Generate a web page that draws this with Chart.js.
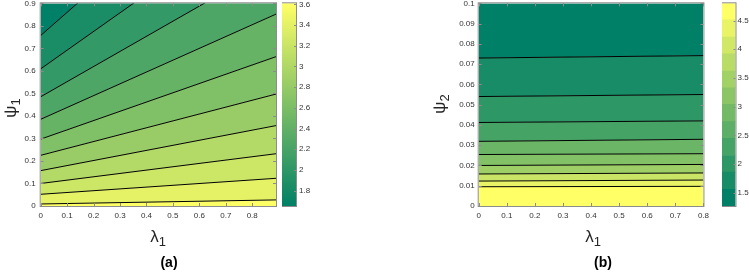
<!DOCTYPE html>
<html>
<head>
<meta charset="utf-8">
<script src="https://cdn.jsdelivr.net/npm/chart.js@4.4.1/dist/chart.umd.min.js"></script>
<style>
  body { margin: 0; background: #fff; font-family: "Liberation Sans", Arial, sans-serif; }
  #fig { position: relative; width: 749px; height: 274px; overflow: hidden; }
  #fig canvas { position: absolute; }
  .rot { position: absolute; white-space: nowrap; color: #262626; font-size: 17px; line-height: 17px; }
  .rot sub { font-size: 13px; vertical-align: baseline; position: relative; top: 4px; }
  .cap { position: absolute; font-weight: bold; font-size: 14px; color: #000; transform: translate(-50%, -50%); }
</style>
</head>
<body>
<div id="fig">
  <canvas id="grafA" width="280" height="260" style="left:0;top:-10px"></canvas>
  <canvas id="barraA" width="40" height="226" style="left:282px;top:-10px"></canvas>
  <canvas id="grafB" width="284" height="260" style="left:430px;top:-10px"></canvas>
  <canvas id="barraB" width="27" height="226" style="left:722px;top:-10px"></canvas>

  <div class="rot" style="left:11px;top:108px;transform:translate(-50%,-50%) rotate(-90deg)">ψ<sub>1</sub></div>
  <div class="rot" style="left:158px;top:228px;transform:translateX(-50%)">λ<sub>1</sub></div>
  <div class="cap" style="left:169px;top:262px">(a)</div>

  <div class="rot" style="left:440px;top:104px;transform:translate(-50%,-50%) rotate(-90deg)">ψ<sub>2</sub></div>
  <div class="rot" style="left:593px;top:228px;transform:translateX(-50%)">λ<sub>1</sub></div>
  <div class="cap" style="left:603px;top:262px">(b)</div>
</div>

<script>
// ---- painel (a): psi1 x lambda1
const lambdaMaxA = 0.89;
const lambdaTicksA = [0, 0.1, 0.2, 0.3, 0.4, 0.5, 0.6, 0.7, 0.8];
const psi1Ticks = [0, 0.1, 0.2, 0.3, 0.4, 0.5, 0.6, 0.7, 0.8, 0.9];
// curvas de nivel: psi1 em lambda1 = 0 e em lambda1 = lambdaMaxA (de baixo para cima)
const nivelA_esq = [0.009, 0.052, 0.100, 0.157, 0.225, 0.297, 0.385, 0.485, 0.609, 0.757];
const nivelA_dir = [0.027, 0.123, 0.232, 0.357, 0.497, 0.663, 0.852, 1.082, 1.347, 1.673];
const barraA_lim = [1.652, 3.61];
const barraA_ticks = [1.8, 2, 2.2, 2.4, 2.6, 2.8, 3, 3.2, 3.4, 3.6];

// ---- painel (b): psi2 x lambda1
const lambdaMaxB = 0.8;
const lambdaTicksB = [0, 0.1, 0.2, 0.3, 0.4, 0.5, 0.6, 0.7, 0.8];
const psi2Ticks = [0, 0.01, 0.02, 0.03, 0.04, 0.05, 0.06, 0.07, 0.08, 0.09, 0.1];
const nivelB_esq = [0.0095, 0.0123, 0.0158, 0.0200, 0.0254, 0.0319, 0.0412, 0.0540, 0.0730];
const nivelB_dir = [0.0097, 0.0128, 0.0163, 0.0205, 0.0258, 0.0329, 0.0420, 0.0550, 0.0742];
const barraB_bordas = [1.27, 1.56, 1.86, 2.15, 2.45, 2.74, 3.04, 3.33, 3.62, 3.92, 4.21, 4.51, 4.80];
const barraB_ticks = [1.5, 2, 2.5, 3, 3.5, 4, 4.5];

// mapa de cores "summer"
const summer = t => `rgb(${Math.round(255 * t)},${Math.round(128 + 127 * t)},102)`;
// cores das regioes, de cima para baixo
const coresA = [0, 1, 2, 3, 4, 5, 6, 7, 8, 9, 10].map(k => summer(k / 10));
const coresB = [0, 1, 2, 3, 4.6, 5.6, 6.8, 8.7, 10, 11].map(k => summer(k / 11));

Chart.defaults.font.family = '"Liberation Sans", Arial, sans-serif';
Chart.defaults.font.size = 8;
Chart.defaults.color = '#333';

// caixa cinza com marcas para dentro (estilo matlab)
const caixa = {
  id: 'caixa',
  afterDraw(chart, args, opts) {
    const { ctx, chartArea: a } = chart;
    const tl = opts.tick || 3;
    ctx.save();
    ctx.strokeStyle = '#8c8c8c';
    ctx.lineWidth = 1;
    ctx.strokeRect(a.left - 0.5, a.top - 0.5, a.width + 1, a.height + 1);
    ctx.beginPath();
    if (opts.x) {
      const sx = chart.scales.x;
      sx.ticks.forEach(t => {
        const px = Math.round(sx.getPixelForValue(t.value)) + 0.5;
        ctx.moveTo(px, a.bottom); ctx.lineTo(px, a.bottom - tl);
        ctx.moveTo(px, a.top); ctx.lineTo(px, a.top + tl);
      });
    }
    const sy = chart.scales.y;
    sy.ticks.forEach(t => {
      const py = Math.round(sy.getPixelForValue(t.value)) + 0.5;
      if (opts.left) { ctx.moveTo(a.left, py); ctx.lineTo(a.left + tl, py); }
      ctx.moveTo(a.right, py); ctx.lineTo(a.right - tl, py);
    });
    ctx.stroke();
    ctx.restore();
  }
};

function montaContorno(esq, dir, xMax, cores) {
  const n = esq.length;
  const ds = esq.map((y0, i) => ({
    data: [{ x: 0, y: y0 }, { x: xMax, y: dir[i] }],
    borderColor: '#000',
    borderWidth: 1,
    pointRadius: 0,
    clip: 0,
    fill: i === 0 ? 'start' : '-1',
    backgroundColor: cores[n - i]
  }));
  // regiao acima da ultima curva
  ds.push({
    data: [{ x: 0, y: esq[n - 1] }, { x: xMax, y: dir[n - 1] }],
    borderWidth: 0,
    pointRadius: 0,
    clip: 0,
    fill: 'end',
    backgroundColor: cores[0]
  });
  return ds;
}

function graficoContorno(id, datasets, xMax, xTicks, yMax, yTicks, largY, padY, padDir) {
  new Chart(document.getElementById(id), {
    type: 'line',
    data: { datasets },
    options: {
      responsive: false,
      animation: false,
      events: [],
      layout: { padding: { top: 13.3, right: padDir, left: 0, bottom: 0 } },
      plugins: { legend: { display: false }, tooltip: { enabled: false }, caixa: { x: true, left: true, tick: 3 } },
      scales: {
        x: {
          type: 'linear', min: 0, max: xMax,
          grid: { display: false, drawTicks: false },
          border: { display: false },
          afterBuildTicks: s => { s.ticks = xTicks.map(v => ({ value: v })); },
          afterFit: s => { s.height = 44; },
          ticks: { padding: 5, maxRotation: 0, callback: v => String(v) }
        },
        y: {
          type: 'linear', min: 0, max: yMax,
          grid: { display: false, drawTicks: false },
          border: { display: false },
          afterBuildTicks: s => { s.ticks = yTicks.map(v => ({ value: v })); },
          afterFit: s => { s.width = largY; },
          ticks: { padding: padY, callback: v => String(v) }
        }
      }
    },
    plugins: [caixa]
  });
}

function graficoBarra(id, datasets, lim, ticks, largY, padY) {
  new Chart(document.getElementById(id), {
    type: 'bar',
    data: { labels: [''], datasets },
    options: {
      responsive: false,
      animation: false,
      events: [],
      layout: { padding: { top: 13.3, right: 0, left: 0, bottom: 10 } },
      plugins: { legend: { display: false }, tooltip: { enabled: false }, caixa: { x: false, left: false, tick: 2 } },
      scales: {
        x: { display: false },
        y: {
          position: 'right', min: lim[0], max: lim[1],
          grid: { display: false, drawTicks: false },
          border: { display: false },
          afterBuildTicks: s => { s.ticks = ticks.map(v => ({ value: v })); },
          afterFit: s => { s.width = largY; },
          ticks: { padding: padY, callback: v => String(v) }
        }
      }
    },
    plugins: [caixa]
  });
}

document.addEventListener('DOMContentLoaded', () => {
  graficoContorno('grafA', montaContorno(nivelA_esq, nivelA_dir, lambdaMaxA, coresA),
    lambdaMaxA, lambdaTicksA, 0.9, psi1Ticks, 40.7, 5, 4);
  graficoContorno('grafB', montaContorno(nivelB_esq, nivelB_dir, lambdaMaxB, coresB),
    lambdaMaxB, lambdaTicksB, 0.1, psi2Ticks, 48.7, 4, 4.4);

  graficoBarra('barraA', [{
    data: [barraA_lim],
    barPercentage: 1, categoryPercentage: 1, borderWidth: 0,
    backgroundColor: c => {
      const a = c.chart.chartArea;
      if (!a) return summer(0.5);
      const g = c.chart.ctx.createLinearGradient(0, a.bottom, 0, a.top);
      g.addColorStop(0, summer(0));
      g.addColorStop(1, summer(1));
      return g;
    }
  }], barraA_lim, barraA_ticks, 26, 3);

  const faixasB = barraB_bordas.slice(0, -1).map((lo, k) => ({
    data: [[lo, barraB_bordas[k + 1]]],
    barPercentage: 1, categoryPercentage: 1, borderWidth: 0, grouped: false,
    backgroundColor: summer(k / (barraB_bordas.length - 2))
  }));
  graficoBarra('barraB', faixasB, [barraB_bordas[0], barraB_bordas[barraB_bordas.length - 1]], barraB_ticks, 13.5, 2);
});
</script>
</body>
</html>
